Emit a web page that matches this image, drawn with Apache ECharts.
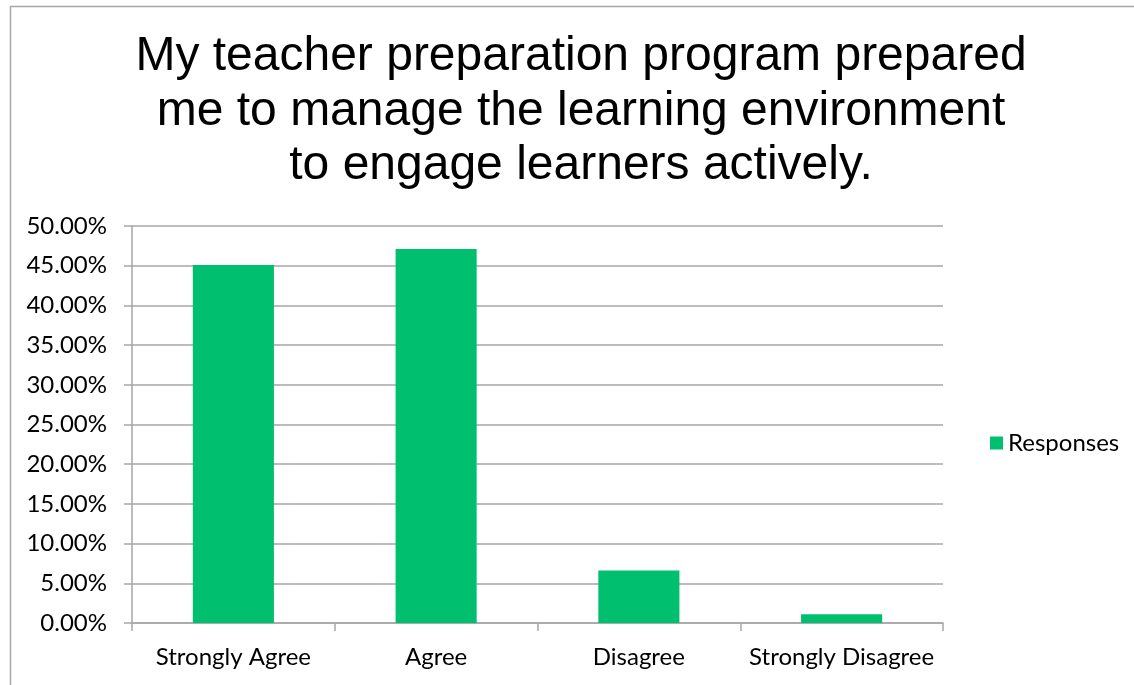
<!DOCTYPE html>
<html>
<head>
<meta charset="utf-8">
<script src="https://cdn.jsdelivr.net/npm/echarts@6/dist/echarts.min.js"></script>
<style>
  html, body { margin: 0; padding: 0; background: #fff; }
  #chart { width: 1134px; height: 685px; }
</style>
</head>
<body>
<div id="chart"></div>
<script>
// survey data
const categories = ['Strongly Agree', 'Agree', 'Disagree', 'Strongly Disagree'];
const responses = [0.451, 0.471, 0.066, 0.011];
const seriesName = 'Responses';
const titleText = 'My teacher preparation program prepared\nme to manage the learning environment\nto engage learners actively.';

const chart = echarts.init(document.getElementById('chart'));
const gray = '#a6a6a6';
const labelFont = 'Lato, "Open Sans", sans-serif';

chart.setOption({
  animation: false,
  title: {
    text: titleText,
    left: 576,
    top: 25,
    textAlign: 'center',
    textStyle: {
      fontFamily: '"Liberation Sans", Arial, sans-serif',
      fontSize: 48,
      fontWeight: 'normal',
      lineHeight: 54.5,
      color: '#000'
    }
  },
  graphic: [{
    type: 'rect',
    shape: { x: 10.5, y: 6.5, width: 1200, height: 800 },
    style: { fill: 'none', stroke: gray, lineWidth: 1.5 },
    silent: true
  }],
  legend: {
    data: [seriesName],
    orient: 'vertical',
    left: 985,
    top: 426,
    icon: 'rect',
    itemWidth: 13,
    itemHeight: 13,
    itemGap: 8,
    textStyle: { fontFamily: labelFont, fontSize: 24, color: '#000' }
  },
  grid: { left: 132, right: 191, top: 226, bottom: 62 },
  xAxis: {
    type: 'category',
    data: categories,
    axisLine: { lineStyle: { color: gray, width: 1.5 } },
    axisTick: { show: true, interval: 0, length: 8, lineStyle: { color: gray, width: 1.5 } },
    axisLabel: { interval: 0, fontFamily: labelFont, fontSize: 24, color: '#000', margin: 22 }
  },
  yAxis: {
    type: 'value',
    min: 0,
    max: 0.5,
    interval: 0.05,
    axisLine: { show: true, lineStyle: { color: gray, width: 1.5 } },
    axisTick: { show: true, length: 8, lineStyle: { color: gray, width: 1.5 } },
    splitLine: { lineStyle: { color: gray, width: 1.5 } },
    axisLabel: {
      fontFamily: labelFont, fontSize: 24, color: '#000', margin: 25,
      formatter: v => (v * 100).toFixed(2) + '%'
    }
  },
  series: [{
    name: seriesName,
    type: 'bar',
    data: responses,
    barCategoryGap: '60%',
    itemStyle: { color: '#00c070' }
  }]
});
</script>
</body>
</html>
